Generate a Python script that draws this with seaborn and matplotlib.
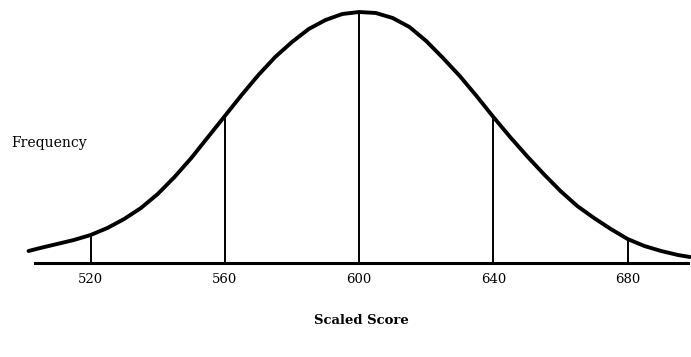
import matplotlib
matplotlib.use("Agg")
import matplotlib.pyplot as plt
import numpy as np
import pandas as pd
import seaborn as sns

# Scaled-score distribution curve (relative frequency, peak at the mean)
scores = [501.5, 505, 510, 515, 520, 525, 530, 535, 540, 545, 550, 555,
          560, 565, 570, 575, 580, 585, 590, 595, 600, 605, 610, 615,
          620, 625, 630, 635, 640, 645, 650, 655, 660, 665, 670, 675,
          680, 685, 690, 695, 698.6]
frequency = [12, 15, 19, 23, 28, 35, 44, 55, 69, 86, 105, 126,
             147, 168, 188, 206, 221, 234, 243, 249, 251, 250, 245, 236,
             222, 205, 187, 167, 146, 126, 107, 89, 72, 57, 45, 34,
             24, 17, 12, 8, 6]

# Marked scores on the scale
tick_scores = [520, 560, 600, 640, 680]
tick_labels = ["520", "560", "600", "640", "680"]

# Extent of the score axis line
axis_start, axis_end = 503.5, 698.0

curve = pd.DataFrame({"score": scores, "frequency": frequency})
lookup = dict(zip(scores, frequency))
tick_heights = [lookup[s] for s in tick_scores]

sns.set_theme(style="white")
plt.rcParams["font.family"] = ["DejaVu Serif"]

fig = plt.figure(figsize=(6.91, 3.57), dpi=100)
ax = fig.add_axes([0, 0, 1, 1])

sns.lineplot(data=curve, x="score", y="frequency", ax=ax,
             color="black", linewidth=2.8, solid_capstyle="round",
             solid_joinstyle="round")
ax.vlines(tick_scores, 0, tick_heights, color="black", linewidth=1.4)

ax.set_xlim(493.0, 698.9)
ax.set_ylim(-94, 263)

for side in ("top", "right", "left"):
    ax.spines[side].set_visible(False)
ax.spines["bottom"].set_position(("data", 0))
ax.spines["bottom"].set_bounds(axis_start, axis_end)
ax.spines["bottom"].set_linewidth(2.2)
ax.spines["bottom"].set_color("black")

ax.set_xticks(tick_scores)
ax.set_xticklabels(tick_labels, fontsize=9.5)
ax.tick_params(axis="x", length=0, pad=7, colors="black")
ax.set_yticks([])
ax.set_xlabel("")
ax.set_ylabel("")

fig.text(11 / 691, 1 - 143 / 357, "Frequency", fontsize=10,
         ha="left", va="center", color="black")
fig.text(361 / 691, 1 - 321 / 357, "Scaled Score", fontsize=9.5,
         fontweight="bold", ha="center", va="center", color="black")

fig.savefig("out.png", dpi=100)
